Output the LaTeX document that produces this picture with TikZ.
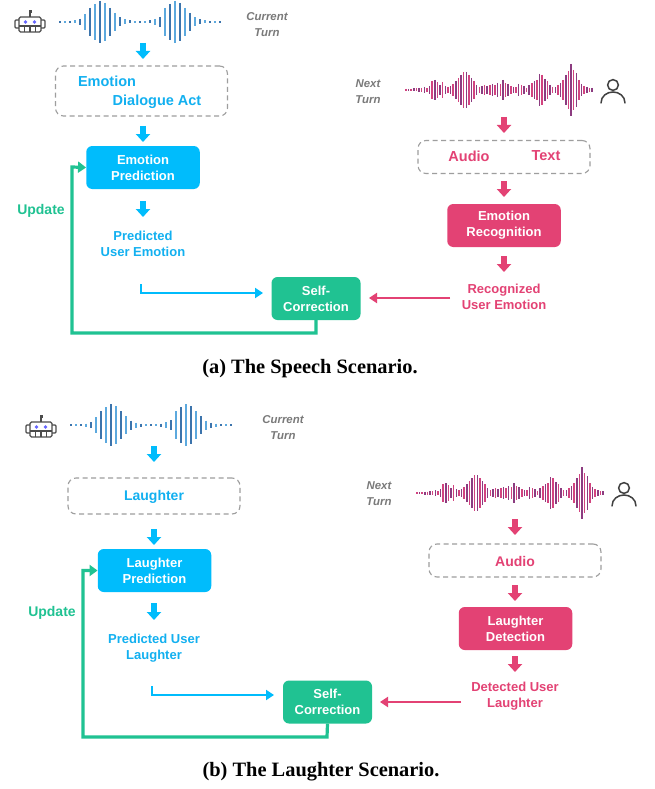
\documentclass[tikz,border=0pt]{standalone}
\usepackage{fontspec}
\setmainfont{Liberation Serif}
\newfontfamily\hv{Liberation Sans}
\usetikzlibrary{arrows.meta}
\definecolor{cblue}{HTML}{00BCFC}
\definecolor{tblue}{HTML}{12B0F0}
\definecolor{cred}{HTML}{E34274}
\definecolor{cgreen}{HTML}{20C292}
\definecolor{cgray}{HTML}{7A7A7A}
\definecolor{wdark}{HTML}{3C74AC}
\definecolor{wlight}{HTML}{5CA9DE}
\definecolor{pdark}{HTML}{8C3C80}
\definecolor{plight}{HTML}{D2437F}
\tikzset{
  x=1pt,y=-1pt,
  base/.style={font=\hv\bfseries\fontsize{13}{16}\selectfont,align=center,inner sep=0pt},
  filled/.style={base,rounded corners=6pt,text=white,minimum height=43pt,minimum width=113.5pt},
  bluebox/.style={filled,fill=cblue},
  redbox/.style={filled,fill=cred},
  greenbox/.style={filled,fill=cgreen,minimum width=89pt},
  dashbox/.style={draw=black!38,line width=1.1pt,dash pattern=on 5pt off 3.5pt,rounded corners=8pt,minimum width=172pt,inner sep=0pt},
  bluetxt/.style={base,text=tblue},
  redtxt/.style={base,text=cred},
  big/.style={font=\hv\bfseries\fontsize{14.5}{18}\selectfont},
  greentxt/.style={base,text=cgreen,font=\hv\bfseries\fontsize{14}{16}\selectfont},
  turn/.style={base,text=cgray,font=\hv\bfseries\itshape\fontsize{11.4}{16}\selectfont},
  fat/.style={line width=6.5pt,-{Triangle[length=8pt,width=14pt]}},
  thin/.style={line width=2.7pt,-{Triangle[length=8pt,width=10pt]}},
  caption/.style={inner sep=0pt,font=\bfseries\fontsize{20.4}{22}\selectfont},
}
\newcommand{\robot}[2]{%
 \begin{scope}[shift={(#1,#2)},draw=black!70,line width=1.2pt]
  \draw[rounded corners=1.5pt] (-11,-6) rectangle (11,9);
  \draw (-11,3)--(11,3) (-5.5,3)--(-5.5,9) (0,3)--(0,9) (5.5,3)--(5.5,9);
  \draw (0,-6)--(0,-11);
  \fill[black!70] (-1.5,-13) rectangle (1.5,-10);
  \draw[rounded corners=1pt] (-11,-3)--(-15,-3)--(-15,5)--(-11,5) (11,-3)--(15,-3)--(15,5)--(11,5);
  \fill[blue!60!white] (-4.5,-1) circle (1.8) (4.5,-1) circle (1.8);
 \end{scope}}
\newcommand{\person}[2]{%
 \begin{scope}[shift={(#1,#2)},draw=black!75,line width=1.5pt]
  \draw (0,-7) circle (5.4);
  \draw[line cap=round] (-12,11) .. controls (-12,4) and (-6,0) .. (0,0) .. controls (6,0) and (12,4) .. (12,11);
 \end{scope}}
\newcommand{\bluewave}[2]{%
 \begin{scope}[shift={(#1,#2)},line width=2.5pt]
  \foreach \i/\a in {0/0.9,1/0.9,2/0.9,3/1.5,4/3,5/8,6/14,7/18,8/21,9/19,10/14,11/9,12/4.5,13/2.5,14/1.5,15/0.9,16/0.9,17/0.9,18/1.5,19/3,20/5,21/14,22/18,23/21,24/19,25/14,26/9,27/4.5,28/2.5,29/1.5,30/0.9,31/0.9,32/0.8}{
   \pgfmathparse{int(mod(\i,2))}
   \ifnum\pgfmathresult=0\def\cc{wdark}\else\def\cc{wlight}\fi
   \draw[\cc] (\i*5,-\a)--(\i*5,\a);
  }
 \end{scope}}
\newcommand{\pinkwave}[2]{%
 \begin{scope}[shift={(#1,#2)},line width=1.5pt]
  \foreach \i/\a in {0/1,1/1,2/1,3/1.5,4/1.5,5/2,6/2,7/3,8/2,9/4,10/9,11/10,12/8,13/5,14/8,15/4,16/3,17/4,18/6,19/9,20/12,21/15,22/18,23/18,24/15,25/12,26/9,27/5,28/3,29/4,30/5,31/4,32/5,33/6,34/5,35/7,36/6,37/10,38/7,39/6,40/4,41/3,42/3,43/6,44/5,45/4,46/2,47/5,48/7,49/9,50/10,51/16,52/15,53/11,54/9,55/5,56/3,57/3,58/5,59/7,60/10,61/15,62/19,63/26,64/20,65/17,66/10,67/6,68/4,69/3,70/2,71/2}{
   \pgfmathparse{int(mod(\i,2))}
   \ifnum\pgfmathresult=0\def\cc{plight}\else\def\cc{pdark}\fi
   \draw[\cc] (\i*2.62,-\a)--(\i*2.62,\a);
  }
 \end{scope}}
\begin{document}
\begin{tikzpicture}
\useasboundingbox (0,0) rectangle (654,789);
\fill[white] (0,0) rectangle (654,789);
%%%% panel a
\robot{30}{23}
\bluewave{60}{22}
\node[turn] (curA) at (267,25) {Current\\Turn};
\coordinate (a1s) at (143,43); \coordinate (a1e) at (143,59);
\draw[cblue,fat] (a1s)--(a1e);
\node[dashbox,minimum height=50pt] (inA) at (141.5,91) {};
\node[bluetxt,big] (emoA) at (107,81) {Emotion};
\node[bluetxt,big] (daA) at (157,102) {Dialogue Act};
\coordinate (a2s) at (143,126); \coordinate (a2e) at (143,142);
\draw[cblue,fat] (a2s)--(a2e);
\node[bluebox] (predA) at (143,167.5) {\raisebox{-1pt}{\parbox{100pt}{\centering Emotion\\Prediction}}};
\coordinate (a3s) at (143,201); \coordinate (a3e) at (143,217);
\draw[cblue,fat] (a3s)--(a3e);
\node[bluetxt] (peA) at (143,244) {Predicted\\User Emotion};
\node[greentxt] (upA) at (41,210.5) {Update};
\node[greenbox] (selfA) at (316,298.5) {\raisebox{-1pt}{\parbox{80pt}{\centering Self-\\Correction}}};
\coordinate (peB) at (141,284);
\draw[cblue,thin] (peB)--(141,293)--(263,293);
\draw[cgreen,line width=3.2pt,-{Triangle[length=8pt,width=11pt]}] (selfA.south)--(316,333)--(72,333)--(72,167)--(predA.west);
%right
\node[turn] (nextA) at (368,92) {Next\\Turn};
\pinkwave{406}{90}
\person{613}{92}
\coordinate (a4s) at (504,117); \coordinate (a4e) at (504,133);
\draw[cred,fat] (a4s)--(a4e);
\node[dashbox,minimum height=33pt] (inB) at (504,157) {};
\node[redtxt,big] (audA) at (469,156) {Audio};
\node[redtxt,big] (txtA) at (546,156) {Text};
\coordinate (a5s) at (504,181); \coordinate (a5e) at (504,197);
\draw[cred,fat] (a5s)--(a5e);
\node[redbox] (recA) at (504,225.5) {\raisebox{-1pt}{\parbox{100pt}{\centering Emotion\\Recognition}}};
\coordinate (a6s) at (504,256); \coordinate (a6e) at (504,272);
\draw[cred,fat] (a6s)--(a6e);
\node[redtxt] (ruA) at (504,296.5) {Recognized\\User Emotion};
\coordinate (a7s) at (450,298); \coordinate (a7e) at (369,298);
\draw[cred,thin] (a7s)--(a7e);
\node[caption] (capA) at (310,369) {(a) The Speech Scenario.};
%%%% panel b
\robot{41}{428}
\bluewave{71}{425}
\node[turn] (curB) at (283,428) {Current\\Turn};
\coordinate (b1s) at (154,446); \coordinate (b1e) at (154,462);
\draw[cblue,fat] (b1s)--(b1e);
\node[dashbox,minimum height=36pt] (inC) at (154,496) {};
\node[bluetxt,font=\hv\bfseries\fontsize{14}{16}\selectfont] (lauB) at (154,496.5) {Laughter};
\coordinate (b2s) at (154,529); \coordinate (b2e) at (154,545);
\draw[cblue,fat] (b2s)--(b2e);
\node[bluebox] (predB) at (154.5,570.5) {\raisebox{-1pt}{\parbox{100pt}{\centering Laughter\\Prediction}}};
\coordinate (b3s) at (154,603); \coordinate (b3e) at (154,620);
\draw[cblue,fat] (b3s)--(b3e);
\node[bluetxt] (plB) at (154,648.5) {Predicted User\\Laughter};
\node[greentxt] (upB) at (52,613) {Update};
\node[greenbox] (selfB) at (327.5,702) {\raisebox{-1pt}{\parbox{80pt}{\centering Self-\\Correction}}};
\coordinate (plE) at (152,686);
\draw[cblue,thin] (plE)--(152,695)--(274,695);
\draw[cgreen,line width=3.2pt,-{Triangle[length=8pt,width=11pt]}] (selfB.south)--(327,737)--(83,737)--(83,570.5)--(predB.west);
\node[turn] (nextB) at (379,494) {Next\\Turn};
\pinkwave{417}{493}
\person{624}{495}
\coordinate (b4s) at (515,519); \coordinate (b4e) at (515,535);
\draw[cred,fat] (b4s)--(b4e);
\node[dashbox,minimum height=33pt] (inD) at (515,560.5) {};
\node[redtxt,font=\hv\bfseries\fontsize{14}{16}\selectfont] (audB) at (515,561) {Audio};
\coordinate (b5s) at (515,585); \coordinate (b5e) at (515,601);
\draw[cred,fat] (b5s)--(b5e);
\node[redbox] (recB) at (515.5,628.5) {\raisebox{-1pt}{\parbox{100pt}{\centering Laughter\\Detection}}};
\coordinate (b6s) at (515,656); \coordinate (b6e) at (515,672);
\draw[cred,fat] (b6s)--(b6e);
\node[redtxt] (duB) at (515,696) {Detected User\\Laughter};
\coordinate (b7s) at (461,702); \coordinate (b7e) at (380,702);
\draw[cred,thin] (b7s)--(b7e);
\node[caption] (capB) at (321,772) {(b) The Laughter Scenario.};
\end{tikzpicture}
\end{document}
